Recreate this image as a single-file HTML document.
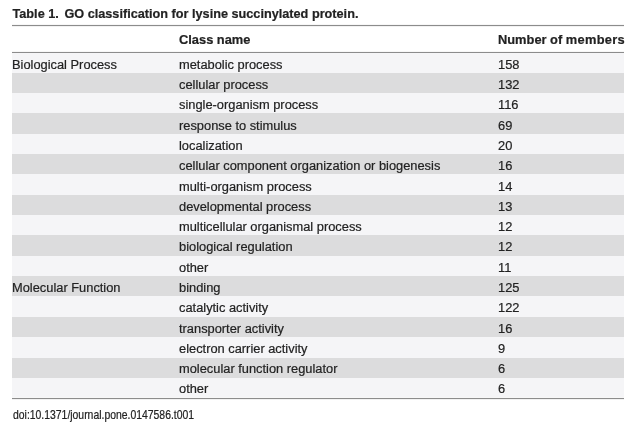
<!DOCTYPE html>
<html><head><meta charset="utf-8"><style>
html,body{margin:0;padding:0;background:#fff;width:640px;height:425px;overflow:hidden}
body{position:relative;font-family:"Liberation Sans",sans-serif;color:#222;-webkit-text-stroke:0.2px #222}
.bg{position:absolute;left:12px;top:53px;width:612px;height:344px;background:#f5f5f7}
.r{position:absolute;left:12px;width:612px;background:#dcdcdd}
.t{position:absolute;font-size:12.85px;line-height:20px;white-space:pre}
.b{font-weight:bold}
.w{position:absolute;left:0;top:0;width:640px;height:425px;will-change:transform}
.ln{position:absolute;left:12px;width:612px;height:1px;background:#8c8c8c;box-shadow:0 -1px 0 rgba(0,0,0,.03),0 1px 0 rgba(0,0,0,.05)}
</style></head><body><div class="w">
<div class="t b" style="top:4px;left:12.5px;font-size:12.7px">Table 1.</div>
<div class="t b" style="top:4px;left:64.4px;font-size:12.7px">GO classification for lysine succinylated protein.</div>
<div class="ln" style="top:25px"></div>
<div class="t b" style="top:30px;left:179px">Class name</div>
<div class="t b" style="top:30px;left:498px">Number of <span style="letter-spacing:.3px">members</span></div>
<div class="ln" style="top:52px"></div>
<div class="bg"></div>
<div class="t" style="top:55px;left:12px">Biological Process</div><div class="t" style="top:55px;left:179px">metabolic process</div><div class="t" style="top:55px;left:498px">158</div><div class="r" style="top:73px;height:20px"></div><div class="t" style="top:75px;left:179px">cellular process</div><div class="t" style="top:75px;left:498px">132</div><div class="t" style="top:95px;left:179px">single-organism process</div><div class="t" style="top:95px;left:498px">116</div><div class="r" style="top:113px;height:21px"></div><div class="t" style="top:116px;left:179px">response to stimulus</div><div class="t" style="top:116px;left:498px">69</div><div class="t" style="top:136px;left:179px">localization</div><div class="t" style="top:136px;left:498px">20</div><div class="r" style="top:154px;height:20px"></div><div class="t" style="top:156px;left:179px">cellular component organization or biogenesis</div><div class="t" style="top:156px;left:498px">16</div><div class="t" style="top:177px;left:179px">multi-organism process</div><div class="t" style="top:177px;left:498px">14</div><div class="r" style="top:195px;height:20px"></div><div class="t" style="top:197px;left:179px">developmental process</div><div class="t" style="top:197px;left:498px">13</div><div class="t" style="top:217px;left:179px">multicellular organismal process</div><div class="t" style="top:217px;left:498px">12</div><div class="r" style="top:235px;height:21px"></div><div class="t" style="top:237px;left:179px">biological regulation</div><div class="t" style="top:237px;left:498px">12</div><div class="t" style="top:258px;left:179px">other</div><div class="t" style="top:258px;left:498px">11</div><div class="r" style="top:276px;height:20px"></div><div class="t" style="top:278px;left:12px">Molecular Function</div><div class="t" style="top:278px;left:179px">binding</div><div class="t" style="top:278px;left:498px">125</div><div class="t" style="top:298px;left:179px">catalytic activity</div><div class="t" style="top:298px;left:498px">122</div><div class="r" style="top:317px;height:20px"></div><div class="t" style="top:319px;left:179px">transporter activity</div><div class="t" style="top:319px;left:498px">16</div><div class="t" style="top:339px;left:179px">electron carrier activity</div><div class="t" style="top:339px;left:498px">9</div><div class="r" style="top:358px;height:20px"></div><div class="t" style="top:359px;left:179px">molecular function regulator</div><div class="t" style="top:359px;left:498px">6</div><div class="t" style="top:379px;left:179px">other</div><div class="t" style="top:379px;left:498px">6</div>
<div class="ln" style="top:398px"></div>
<div class="t" style="top:405px;left:12.5px;font-size:11.9px;transform:scaleX(0.875);transform-origin:0 0">doi:10.1371/journal.pone.0147586.t001</div>
</div></body></html>
